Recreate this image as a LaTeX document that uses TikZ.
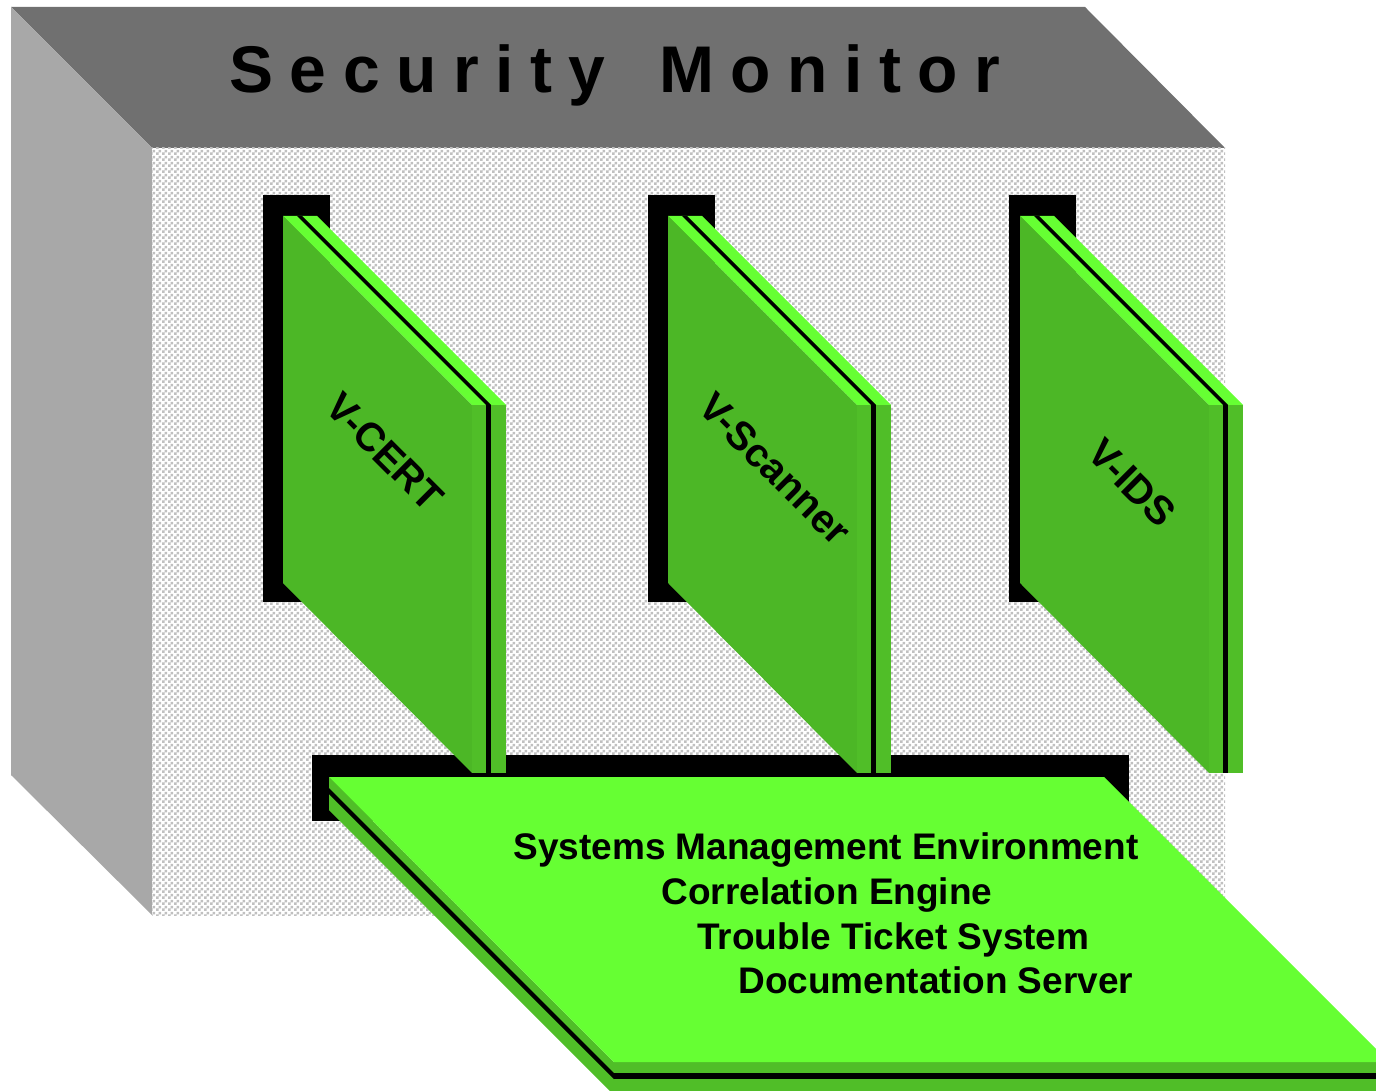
\documentclass[tikz,border=0pt]{standalone}
\usepackage{fontspec}
\setmainfont{Liberation Sans}
\newfontfamily\titlefont{Liberation Sans}[LetterSpace=25.0]
\usetikzlibrary{patterns}

\definecolor{topgray}{RGB}{112,112,112}
\definecolor{sidegray}{RGB}{168,168,168}
\definecolor{dotgray}{RGB}{192,192,192}
\definecolor{frontgreen}{RGB}{76,183,38}
\definecolor{sidegreen}{RGB}{80,190,40}
\definecolor{litegreen}{RGB}{102,255,51}

% fine checkerboard for the back wall
\pgfdeclarepatternformonly{finechecker}{\pgfpointorigin}{\pgfqpoint{3pt}{3pt}}{\pgfqpoint{3pt}{3pt}}{%
  \pgfpathrectangle{\pgfpointorigin}{\pgfqpoint{1.5pt}{1.5pt}}%
  \pgfpathrectangle{\pgfqpoint{1.5pt}{1.5pt}}{\pgfqpoint{1.5pt}{1.5pt}}%
  \pgfusepath{fill}}

\tikzset{
  slabfront/.style={fill=frontgreen},
  slabtop/.style={fill=litegreen},
  slabside/.style={fill=sidegreen},
  slabgap/.style={fill=black},
  titlelabel/.style={font=\titlefont\bfseries\fontsize{33}{40}\selectfont, anchor=base west, inner sep=0pt},
  panellabel/.style={font=\bfseries\fontsize{20}{24}\selectfont, rotate=-45, inner sep=0pt},
  baselabel/.style={font=\bfseries\fontsize{18.5}{22}\selectfont, anchor=base west, inner sep=0pt},
}

\begin{document}
\begin{tikzpicture}[x=0.5pt, y=-0.5pt]
\useasboundingbox (0,0) rectangle (1376,1091);
\fill[white] (0,0) rectangle (1376,1091);
\clip (0,0) rectangle (1376,1091);

% the cabinet: top, left side and patterned back wall
\fill[topgray] (11,7) -- (1085,7) -- (1225,148) -- (152,148) -- cycle;
\fill[sidegray] (11,7) -- (152,148) -- (152,915) -- (11,775) -- cycle;
\fill[white] (152,148) rectangle (1225,915);
\fill[pattern=finechecker, pattern color=dotgray] (152,148) rectangle (1225,915);

% shadows behind the three modules
\foreach \bx in {263,648,1009}
  \fill[black] (\bx,195) rectangle (\bx+67,602);

% shadow of the base platform
\fill[black] (312,755) rectangle (1129,821);

% the three module slabs
\foreach \dx in {0,385,737} {
  \begin{scope}[shift={(\dx,0)}]
    \fill[slabfront] (283,216) -- (472,405) -- (472,773) -- (283,583) -- cycle;
    \fill[slabtop] (283,216) -- (317,216) -- (506,405) -- (472,405) -- cycle;
    \fill[slabgap] (297,216) -- (302,216) -- (491,405) -- (486,405) -- cycle;
    \fill[slabside] (472,405) rectangle (506,773);
    \fill[slabgap] (486,405) rectangle (491,773);
  \end{scope}
}

% base platform
\fill[slabside] (329,777) -- (614,1062) -- (614,1095) -- (329,810) -- cycle;
\fill[slabside] (614,1062) rectangle (1400,1095);
\fill[slabgap] (329,788) -- (614,1073) -- (614,1079) -- (329,794) -- cycle;
\fill[slabgap] (614,1073) rectangle (1400,1079);
\fill[slabtop] (329,777) -- (1104,777) -- (1389,1062) -- (614,1062) -- cycle;

% labels
\node[titlelabel] (title1) at (229,93) {Security};
\node[titlelabel] (title2) at (659,93) {Monitor};
\node[panellabel] (vcert) at (385,452) {V-CERT};
\node[panellabel] (vscan) at (775,469) {V-Scanner};
\node[panellabel] (vids) at (1132,483) {V-IDS};

\node[baselabel] (sme) at (513,859) {Systems Management Environment};
\node[baselabel] (ce) at (661,904) {Correlation Engine};
\node[baselabel] (tts) at (697,949) {Trouble Ticket System};
\node[baselabel] (ds) at (738,993) {Documentation Server};
\end{tikzpicture}
\end{document}
